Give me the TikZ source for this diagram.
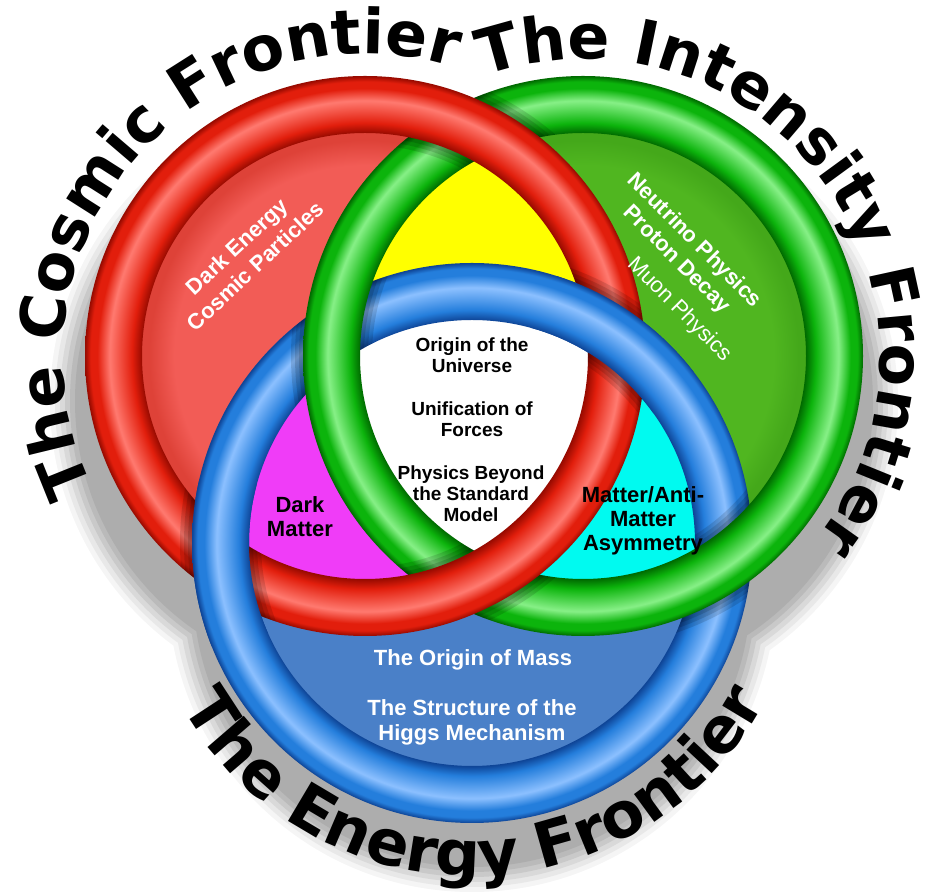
\documentclass[tikz,border=0pt]{standalone}
\usepackage{fontspec}
\setmainfont{Liberation Sans}
\newfontfamily\titlefam{DejaVu Sans}
\usetikzlibrary{decorations.text}

\definecolor{myreddark}{RGB}{150,10,0}
\definecolor{myred}{RGB}{226,30,12}
\definecolor{myredhi}{RGB}{255,122,112}
\definecolor{mygreendark}{RGB}{0,105,0}
\definecolor{mygreen}{RGB}{12,180,12}
\definecolor{mygreenhi}{RGB}{135,240,135}
\definecolor{mybluedark}{RGB}{14,68,150}
\definecolor{myblue}{RGB}{36,126,220}
\definecolor{mybluehi}{RGB}{140,192,255}
\definecolor{myredfill}{RGB}{242,92,86}
\definecolor{myredband}{RGB}{222,66,56}
\definecolor{mygreenfill}{RGB}{80,182,32}
\definecolor{mygreenband}{RGB}{68,168,26}
\definecolor{mybluefill}{RGB}{74,128,200}
\definecolor{myyellow}{RGB}{255,255,0}
\definecolor{mymagenta}{RGB}{240,60,248}
\definecolor{mycyan}{RGB}{0,250,240}

% Tube shadings (25bp = outer radius of the ring)
\pgfdeclareradialshading{redtube}{\pgfpoint{0bp}{0bp}}{color(0bp)=(myreddark); color(19.9bp)=(myreddark); color(20.8bp)=(myred); color(22.8bp)=(myredhi); color(23.9bp)=(myred); color(24.5bp)=(myred); color(25bp)=(myreddark); color(50bp)=(myreddark)}
\pgfdeclareradialshading{greentube}{\pgfpoint{0bp}{0bp}}{color(0bp)=(mygreendark); color(19.9bp)=(mygreendark); color(20.8bp)=(mygreen); color(22.8bp)=(mygreenhi); color(23.9bp)=(mygreen); color(24.5bp)=(mygreen); color(25bp)=(mygreendark); color(50bp)=(mygreendark)}
\pgfdeclareradialshading{bluetube}{\pgfpoint{0bp}{0bp}}{color(0bp)=(mybluedark); color(19.9bp)=(mybluedark); color(20.8bp)=(myblue); color(22.8bp)=(mybluehi); color(23.9bp)=(myblue); color(24.5bp)=(myblue); color(25bp)=(mybluedark); color(50bp)=(mybluedark)}
% Disc shadings (25bp = radius of the disc)
\pgfdeclareradialshading{redfill}{\pgfpoint{0bp}{0bp}}{color(0bp)=(myredfill); color(19bp)=(myredfill); color(21.5bp)=(myredband); color(50bp)=(myredband)}
\pgfdeclareradialshading{greenfill}{\pgfpoint{0bp}{0bp}}{color(0bp)=(mygreenfill); color(19bp)=(mygreenfill); color(21.5bp)=(mygreenband); color(50bp)=(mygreenband)}

\begin{document}
\begin{tikzpicture}[x=1pt, y=1pt,
    lbl/.style={font=\bfseries\fontsize{22}{24}\selectfont, align=center, inner sep=0pt},
    core/.style={font=\bfseries\fontsize{19}{21}\selectfont, align=center, inner sep=0pt},
    arctitle/.style={decorate, decoration={text along path, text align=center,
        text={|\titlefam\bfseries\fontsize{62}{70}\selectfont|#1}}},
    arctitlebig/.style={decorate, decoration={text along path, text align=center,
        text={|\titlefam\bfseries\fontsize{63}{70}\selectfont|#1}}}]
    \useasboundingbox (0,0) rectangle (927,894);

    % Ring centres and their shadow centres
    \coordinate (R) at (365,538);
    \coordinate (G) at (583,538);
    \coordinate (B) at (472,351);
    \coordinate (RS) at (354,493);
    \coordinate (GS) at (594,492);
    \coordinate (BS) at (472,306);

    % Soft drop shadow
    \foreach \r/\g in {304/8,299/18,294/30,289/42,284/54,279/64} {
        \fill[gray!\g] (RS) circle[radius=\r] (GS) circle[radius=\r] (BS) circle[radius=\r];
    }

    % Draw the three discs
    \shade[shading=redfill] (R) circle[radius=251];
    \shade[shading=greenfill] (G) circle[radius=251];
    \fill[mybluefill] (B) circle[radius=251];

    % Overlap regions
    \begin{scope}
        \clip (R) circle[radius=251];
        \fill[myyellow] (G) circle[radius=251];
        \fill[mymagenta] (B) circle[radius=251];
    \end{scope}
    \begin{scope}
        \clip (G) circle[radius=251];
        \fill[mycyan] (B) circle[radius=251];
        \clip (R) circle[radius=251];
        \fill[white] (B) circle[radius=251];
    \end{scope}

    % Blue tube
    \shade[shading=bluetube, even odd rule] (B) circle[radius=280] (B) circle[radius=223];

    % Green tube over blue
    \begin{scope}[even odd rule]
        \clip (B) circle[radius=280] (B) circle[radius=223];
        \foreach \d in {12,8,4}
            \fill[black, opacity=0.13] (G) circle[radius=280+\d] (G) circle[radius=223-\d];
    \end{scope}
    \shade[shading=greentube, even odd rule] (G) circle[radius=280] (G) circle[radius=223];

    % Red tube over green
    \begin{scope}[even odd rule]
        \clip (G) circle[radius=280] (G) circle[radius=223];
        \foreach \d in {12,8,4}
            \fill[black, opacity=0.13] (R) circle[radius=280+\d] (R) circle[radius=223-\d];
    \end{scope}
    \shade[shading=redtube, even odd rule] (R) circle[radius=280] (R) circle[radius=223];

    % Blue tube again over red at the two red/blue crossings
    \begin{scope}
        \clip (221,332) circle[radius=85] (616,557) circle[radius=85];
        \begin{scope}[even odd rule]
            \clip (R) circle[radius=280] (R) circle[radius=223];
            \foreach \d in {12,8,4}
                \fill[black, opacity=0.13] (B) circle[radius=280+\d] (B) circle[radius=223-\d];
        \end{scope}
        \shade[shading=bluetube, even odd rule] (B) circle[radius=280] (B) circle[radius=223];
    \end{scope}

    % Labels inside the rings
    \node[core] (origin) at (472,539) {Origin of the\\Universe};
    \node[core] (unify) at (472,475) {Unification of\\Forces};
    \node[core] (beyond) at (471,400) {Physics Beyond\\the Standard\\Model};
    \node[lbl] (darkmatter) at (300,377) {Dark\\Matter};
    \node[lbl] (asym) at (643,373) {Matter/Anti-\\Matter\\Asymmetry};
    \node[lbl, white] (mass) at (473,234) {The Origin of Mass};
    \node[lbl, white, font=\bfseries\fontsize{22}{25}\selectfont] (higgs) at (472,172) {The Structure of the\\Higgs Mechanism};
    \node[lbl, white, rotate=43, font=\bfseries\fontsize{22}{27}\selectfont] (darkenergy) at (246,638) {Dark Energy\\Cosmic Particles};
    \node[lbl, white, rotate=-45] (neutrino) at (694,653) {Neutrino Physics};
    \node[lbl, white, rotate=-45] (proton) at (676,634) {Proton Decay};
    \node[lbl, white, rotate=-45, font=\fontsize{22}{24}\selectfont] (muon) at (679,584.5) {Muon Physics};

    % Frontier titles along arcs
    \path[arctitle={The Cosmic Frontier}] (R) ++(229.3:302) arc[start angle=229.3, end angle=49.3, radius=302];
    \path[arctitle={The Intensity Frontier}] (G) ++(125.7:297) arc[start angle=125.7, end angle=-54.3, radius=297];
    \path[arctitlebig={The Energy Frontier}] (B) ++(180.5:333) arc[start angle=180.5, end angle=360.5, radius=333];
\end{tikzpicture}
\end{document}
